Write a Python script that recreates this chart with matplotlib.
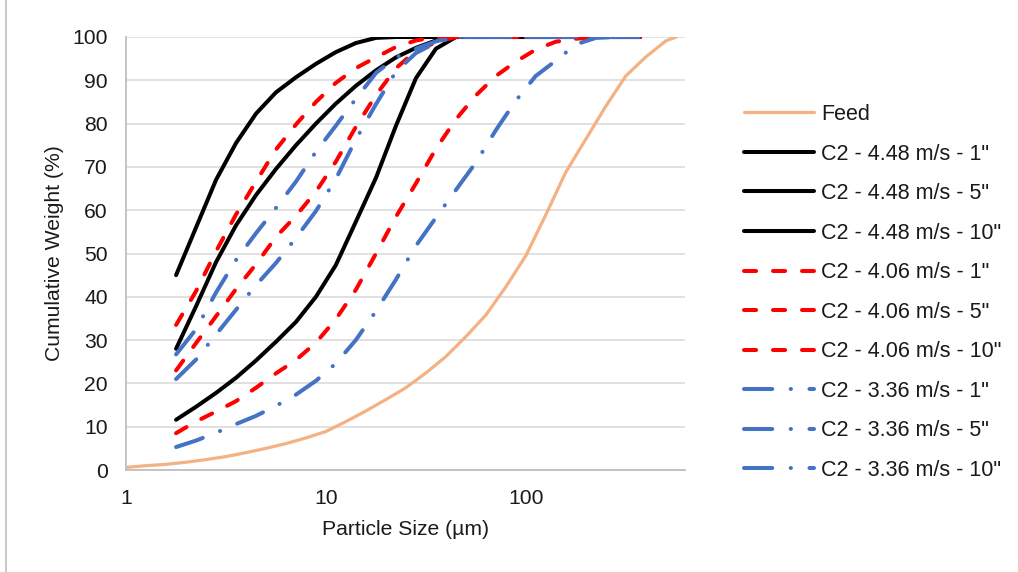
import matplotlib
matplotlib.use("Agg")
import matplotlib.pyplot as plt
from matplotlib.lines import Line2D

plt.rcParams['font.family'] = ['Liberation Sans', 'DejaVu Sans']

# ---------------- data ----------------
feed_sizes = [1, 1.26, 1.58, 2.0, 2.51, 3.16, 3.98, 5.01, 6.31, 7.94, 10, 12.6, 15.8, 20,
              25.1, 31.6, 39.8, 50.1, 63.1, 79.4, 100, 126, 158, 200, 251, 316, 398, 501, 565]
feed_vals = [0.6, 1.0, 1.3, 1.8, 2.4, 3.1, 4.0, 5.0, 6.1, 7.4, 8.9, 11.2, 13.6, 16.3,
             19.0, 22.4, 26.2, 30.8, 35.8, 42.3, 49.5, 59.0, 68.7, 76.5, 84.0, 91.0, 95.4, 99.1, 100]

sizes = [1.78, 2.24, 2.82, 3.55, 4.47, 5.62, 7.08, 8.91, 11.2, 14.1, 17.8, 22.4, 28.2,
         35.5, 44.7, 56.2, 70.8, 89.1, 112, 141, 178, 224, 282, 372]

c448_1 = [45, 56, 67, 75.5, 82.3, 87.2, 90.7, 93.8, 96.5, 98.6, 99.8, 100, 100,
          100, 100, 100, 100, 100, 100, 100, 100, 100, 100, 100]
c448_5 = [28, 37.8, 48, 56.5, 63.5, 69.5, 75, 80, 84.6, 88.7, 92.3, 95.3, 97.5,
          99.2, 100, 100, 100, 100, 100, 100, 100, 100, 100, 100]
c448_10 = [11.6, 14.6, 17.8, 21.3, 25.3, 29.6, 34.2, 40, 47.3, 57.3, 67.5, 79.5, 90.5,
           97.3, 100, 100, 100, 100, 100, 100, 100, 100, 100, 100]

c406_1 = [33.5, 41.3, 50.5, 59, 66.6, 74, 79.8, 85, 89.4, 92.8, 95.3, 97.7, 99.2,
          100, 100, 100, 100, 100, 100, 100, 100, 100, 100, 100]
c406_5 = [23, 29.3, 35.5, 41.8, 47.5, 53.8, 58.7, 64.3, 71.2, 79.2, 86.6, 92.8, 96.8,
          98.8, 100, 100, 100, 100, 100, 100, 100, 100, 100, 100]
c406_10 = [8.5, 11.2, 13.5, 15.9, 19, 22.3, 25.4, 29.4, 34.8, 41.6, 50, 58.5, 66.2,
           74.2, 81, 86.5, 91, 94.3, 97.1, 98.9, 99.6, 100, 100, 100]

c336_1 = [26.7, 32.5, 41, 48.5, 54.7, 60.5, 66.6, 73.5, 79.5, 85.7, 91.7, 95.3, 97.3,
          99, 100, 100, 100, 100, 100, 100, 100, 100, 100, 100]
c336_5 = [21, 25.5, 31.3, 37, 42.7, 47.8, 53.6, 59.8, 67.2, 76.3, 84.5, 92, 96.3,
          98.7, 100, 100, 100, 100, 100, 100, 100, 100, 100, 100]
c336_10 = [5.3, 6.8, 8.6, 10.6, 12.5, 14.8, 17.4, 20.6, 24.6, 30, 36.7, 44, 51.8,
           58.3, 64.7, 71, 78.5, 85.3, 91, 94.5, 98.3, 99.8, 100, 100]

labels = ['Feed',
          'C2 - 4.48 m/s - 1"', 'C2 - 4.48 m/s - 5"', 'C2 - 4.48 m/s - 10"',
          'C2 - 4.06 m/s - 1"', 'C2 - 4.06 m/s - 5"', 'C2 - 4.06 m/s - 10"',
          'C2 - 3.36 m/s - 1"', 'C2 - 3.36 m/s - 5"', 'C2 - 3.36 m/s - 10"']
x_ticks = [1, 10, 100]
y_ticks = [0, 10, 20, 30, 40, 50, 60, 70, 80, 90, 100]

# ---------------- figure ----------------
W, H = 1018, 572
fig = plt.figure(figsize=(W / 100, H / 100), dpi=100)
ax = fig.add_axes([126 / W, (H - 470) / H, 559 / W, 433 / H])

FS = 15.2
LFS = 15.5
FEED_C = '#F4B183'
BLACK = '#000000'
RED = '#FF0000'
BLUE = '#4472C4'
LW = 2.9

ax.plot(feed_sizes, feed_vals, color=FEED_C, lw=2.3, solid_capstyle='round', label=labels[0])

black_series = [c448_1, c448_5, c448_10]
red_series = [c406_1, c406_5, c406_10]
blue_series = [c336_1, c336_5, c336_10]

for i, s in enumerate(black_series):
    ax.plot(sizes, s, color=BLACK, lw=LW, solid_capstyle='round', label=labels[1 + i])
for i, s in enumerate(red_series):
    ax.plot(sizes, s, color=RED, lw=LW, linestyle=(0, (3.0, 4.2)),
            dash_capstyle='round', label=labels[4 + i])
for i, s in enumerate(blue_series):
    ax.plot(sizes, s, color=BLUE, lw=LW, linestyle=(0, (7.0, 4.6, 0.05, 4.6)),
            dash_capstyle='round', label=labels[7 + i])

ax.set_xscale('log')
ax.set_xlim(1, 625)
ax.set_ylim(0, 100)
ax.set_xticks(x_ticks)
ax.set_xticklabels([str(t) for t in x_ticks])
ax.xaxis.set_minor_locator(matplotlib.ticker.NullLocator())
ax.set_yticks(y_ticks)
ax.set_yticklabels([str(t) for t in y_ticks])

ax.tick_params(axis='both', length=0, labelsize=FS, colors='#1a1a1a')
ax.tick_params(axis='x', pad=13.5)
ax.tick_params(axis='y', pad=13)

ax.grid(axis='y', color='#D9D9D9', lw=1.1)
ax.set_axisbelow(True)
for side in ['top', 'right']:
    ax.spines[side].set_visible(False)
for side in ['left', 'bottom']:
    ax.spines[side].set_color('#BFBFBF')
    ax.spines[side].set_linewidth(1.3)

ax.set_xlabel('Particle Size (µm)', fontsize=FS, color='#1a1a1a', labelpad=9)
ax.set_ylabel('Cumulative Weight (%)', fontsize=FS, color='#1a1a1a', labelpad=6)

leg = fig.legend(loc='upper left', bbox_to_anchor=(744 / W, 1 - 104 / H),
                 frameon=False, fontsize=LFS, handlelength=3.25, handletextpad=0.33,
                 labelspacing=0.86, borderpad=0, borderaxespad=0)
for t in leg.get_texts():
    t.set_color('#1a1a1a')

# chart outer border (left edge visible)
fig.add_artist(Line2D([5.5 / W, 5.5 / W], [0, 1], transform=fig.transFigure,
                      color='#BFBFBF', lw=1.2))

fig.savefig('out.png', dpi=100)
